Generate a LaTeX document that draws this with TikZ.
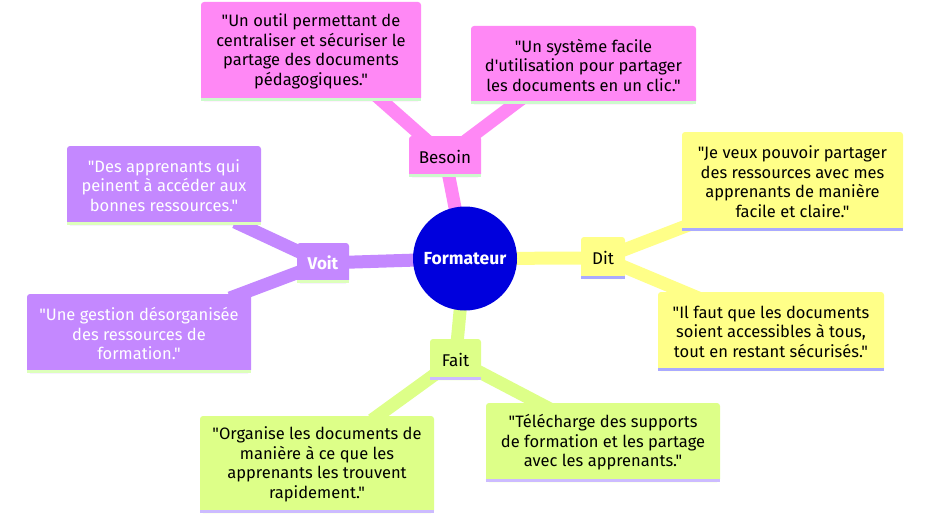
\documentclass[tikz,border=0pt]{standalone}
\usepackage{fontspec}
\setmainfont{Fira Sans}[Ligatures=TeXOff]
\usetikzlibrary{backgrounds}
\definecolor{pinkc}{RGB}{255,136,245}
\definecolor{pinkstrip}{RGB}{204,250,204}
\definecolor{purplec}{RGB}{196,136,255}
\definecolor{purplestrip}{RGB}{221,255,187}
\definecolor{yellowc}{RGB}{255,255,136}
\definecolor{yellowstrip}{RGB}{170,170,255}
\definecolor{greenc}{RGB}{221,255,136}
\definecolor{greenstrip}{RGB}{204,187,255}
\definecolor{bluec}{RGB}{0,0,221}
\newcommand\qq{{\char34}}
\tikzset{
  box/.style={rounded corners=3pt, inner sep=0pt, align=center,
    font=\fontsize{16.5}{19.5}\selectfont},
  branchbox/.style={box, font=\fontsize{17}{19}\selectfont},
  conn/.style={line width=13pt, line cap=butt},
}
\begin{document}
\begin{tikzpicture}[x=1pt,y=-1pt]
\useasboundingbox (0,0) rectangle (929,519);
% center
\node[circle, fill=bluec, minimum size=104pt, inner sep=0pt, text=white,
  font=\fontsize{17.5}{19}\selectfont\bfseries] (F) at (465,258.5) {Formateur};
% branches
\node[branchbox, fill=pinkc, minimum width=72pt, minimum height=41pt] (B) at (445,156.5) {Besoin};
\node[branchbox, fill=yellowc, minimum width=44pt, minimum height=42pt] (D) at (603,258) {Dit};
\node[branchbox, fill=greenc, minimum width=51pt, minimum height=41pt] (Fa) at (455.5,359.5) {Fait};
\node[branchbox, fill=purplec, minimum width=52pt, minimum height=40pt, text=white, font=\fontsize{17}{19}\selectfont\bfseries] (V) at (323,263) {Voit};
% leaves
\node[box, fill=pinkc, minimum width=220pt, minimum height=99pt] (P1) at (311,51.5)
  {\qq Un outil permettant de\\centraliser et sécuriser le\\partage des documents\\pédagogiques.\qq};
\node[box, fill=pinkc, minimum width=225pt, minimum height=78pt] (P2) at (583.5,65)
  {\qq Un système facile\\d'utilisation pour partager\\les documents en un clic.\qq};
\node[box, fill=yellowc, minimum width=221pt, minimum height=99pt] (Y1) at (792.5,181.5)
  {\qq Je veux pouvoir partager\\des ressources avec mes\\apprenants de manière\\facile et claire.\qq};
\node[box, fill=yellowc, minimum width=226pt, minimum height=79pt] (Y2) at (771,331.5)
  {\qq Il faut que les documents\\soient accessibles à tous,\\tout en restant sécurisés.\qq};
\node[box, fill=greenc, minimum width=234pt, minimum height=79pt] (G2) at (603,442.5)
  {\qq Télécharge des supports\\de formation et les partage\\avec les apprenants.\qq};
\node[box, fill=greenc, minimum width=234pt, minimum height=97pt] (G1) at (317,464.5)
  {\qq Organise les documents de\\manière à ce que les\\apprenants les trouvent\\rapidement.\qq};
\node[box, fill=purplec, minimum width=194pt, minimum height=79pt, text=white] (U1) at (164,185.5)
  {\qq Des apprenants qui\\peinent à accéder aux\\bonnes ressources.\qq};
\node[box, fill=purplec, minimum width=224pt, minimum height=79pt, text=white] (U2) at (139,333.5)
  {\qq Une gestion désorganisée\\des ressources de\\formation.\qq};
% strips
\foreach \n/\c in {B/pinkstrip,P1/pinkstrip,P2/pinkstrip,D/yellowstrip,Y1/yellowstrip,Y2/yellowstrip,Fa/greenstrip,G1/greenstrip,G2/greenstrip,V/purplestrip,U1/purplestrip,U2/purplestrip}
  \fill[\c] ([yshift=3pt]\n.south west) rectangle (\n.south east);
% connector end points
\coordinate (eP1) at (372,92);
\coordinate (eP2) at (528,94);
\coordinate (eY1) at (712,216);
\coordinate (eY2) at (708,302);
\coordinate (eG2) at (552,410);
\coordinate (eG1) at (372,420);
\coordinate (eU1) at (235,222);
\coordinate (eU2) at (230,298);
\begin{scope}[on background layer]
\fill[white] (0,0) rectangle (929,519);
\draw[conn, pinkc] (F.center) -- (B.center);
\draw[conn, yellowc] (F.center) -- (D.center);
\draw[conn, greenc] (F.center) -- (Fa.center);
\draw[conn, purplec] (F.center) -- (V.center);
\draw[conn, pinkc] (B.center) -- (eP1);
\draw[conn, pinkc] (B.center) -- (eP2);
\draw[conn, yellowc] (D.center) -- (eY1);
\draw[conn, yellowc] (D.center) -- (eY2);
\draw[conn, greenc] (Fa.center) -- (eG2);
\draw[conn, greenc] (Fa.center) -- (eG1);
\draw[conn, purplec] (V.center) -- (eU1);
\draw[conn, purplec] (V.center) -- (eU2);
\end{scope}
\end{tikzpicture}
\end{document}
